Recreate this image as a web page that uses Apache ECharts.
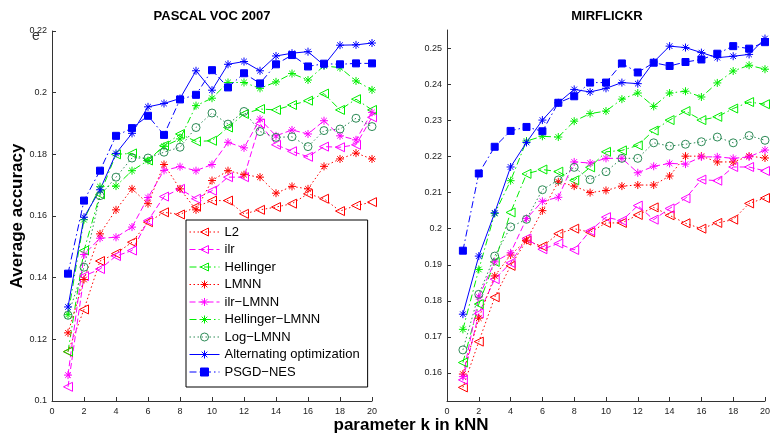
<!DOCTYPE html>
<html><head><meta charset="utf-8">
<script src="https://cdn.jsdelivr.net/npm/echarts@6/dist/echarts.min.js"></script>
<style>html,body{margin:0;padding:0;background:#fff}#c{width:773px;height:437px}</style>
</head><body><div id="c"></div>
<script>
const K = [1,2,3,4,5,6,7,8,9,10,11,12,13,14,15,16,17,18,19,20];
const seriesNames = ['L2','ilr','Hellinger','LMNN','ilr\u2212LMNN','Hellinger\u2212LMNN','Log\u2212LMNN','Alternating optimization','PSGD\u2212NES'];
const xTicks = [0,2,4,6,8,10,12,14,16,18,20];
const yTicksLeft = [0.1,0.12,0.14,0.16,0.18,0.2,0.22];
const yTickLabelsLeft = ['0.1','0.12','0.14','0.16','0.18','0.2','0.22'];
const yTicksRight = [0.16,0.17,0.18,0.19,0.2,0.21,0.22,0.23,0.24,0.25];
const yTickLabelsRight = ['0.16','0.17','0.18','0.19','0.2','0.21','0.22','0.23','0.24','0.25'];

// PASCAL VOC 2007
const L2_pascal = [0.116,0.1297,0.1454,0.1478,0.1515,0.158,0.1612,0.1605,0.163,0.165,0.165,0.1607,0.162,0.1629,0.164,0.1672,0.1656,0.1616,0.1634,0.1645];
const ilr_pascal = [0.1046,0.1405,0.1428,0.147,0.1488,0.1585,0.1663,0.1688,0.1656,0.1682,0.1726,0.1726,0.19,0.1831,0.181,0.1792,0.1825,0.1823,0.1831,0.192];
const Hellinger_pascal = [0.116,0.1488,0.167,0.18,0.1803,0.178,0.1828,0.1866,0.1842,0.1844,0.1887,0.1931,0.1947,0.1944,0.196,0.1974,0.1997,0.1944,0.1979,0.1944];
const LMNN_pascal = [0.1221,0.1394,0.1542,0.162,0.1688,0.164,0.1767,0.1688,0.162,0.1715,0.1747,0.1734,0.1726,0.1674,0.1696,0.1688,0.1761,0.1785,0.1804,0.1785];
const ilrLMNN_pascal = [0.1084,0.1475,0.1528,0.1531,0.1564,0.166,0.1748,0.176,0.1747,0.1767,0.1839,0.1821,0.1914,0.186,0.1879,0.1866,0.1909,0.186,0.1847,0.1936];
const HellLMNN_pascal = [0.128,0.1588,0.1695,0.1697,0.1747,0.178,0.1826,0.185,0.1958,0.1982,0.2033,0.2033,0.2014,0.2035,0.2062,0.2041,0.2087,0.2081,0.2038,0.2009];
const LogLMNN_pascal = [0.1278,0.1434,0.1666,0.1726,0.1788,0.1788,0.1807,0.1823,0.1887,0.1934,0.1898,0.1939,0.1874,0.1855,0.1857,0.1825,0.1877,0.1882,0.1917,0.189];
const Alt_pascal = [0.1305,0.1596,0.1685,0.1803,0.1868,0.1954,0.1965,0.1981,0.2071,0.2008,0.2092,0.2101,0.2071,0.2119,0.2128,0.2133,0.2089,0.2154,0.2155,0.2161];
const PSGD_pascal = [0.1413,0.165,0.1747,0.186,0.1885,0.1925,0.1863,0.1978,0.1993,0.2073,0.2017,0.2063,0.203,0.2092,0.2122,0.2085,0.2094,0.2092,0.2095,0.2095];

// MIRFLICKR
const L2_mir = [0.156,0.1687,0.181,0.1897,0.1967,0.1951,0.1986,0.2,0.199,0.2016,0.2016,0.2038,0.2059,0.2037,0.2015,0.2,0.2016,0.2025,0.207,0.2085];
const ilr_mir = [0.1581,0.1765,0.186,0.1905,0.1973,0.1943,0.1959,0.1941,0.1994,0.2032,0.2022,0.2064,0.2025,0.2056,0.2084,0.2136,0.2133,0.2171,0.2171,0.216];
const Hellinger_mir = [0.1629,0.1791,0.1908,0.2045,0.2152,0.2164,0.2158,0.2134,0.217,0.2213,0.2217,0.2231,0.2272,0.2301,0.2326,0.2301,0.231,0.2333,0.2351,0.2345];
const LMNN_mir = [0.1597,0.1752,0.1869,0.1927,0.1968,0.205,0.213,0.2118,0.21,0.2106,0.2118,0.2121,0.2121,0.2146,0.2201,0.2201,0.2185,0.2185,0.2201,0.2196];
const ilrLMNN_mir = [0.159,0.1811,0.1908,0.1933,0.2028,0.2076,0.2087,0.2185,0.2182,0.2195,0.2195,0.2155,0.2173,0.2181,0.2179,0.2199,0.2199,0.2195,0.2199,0.2218];
const HellLMNN_mir = [0.1721,0.1887,0.2042,0.2133,0.2243,0.2256,0.2254,0.2298,0.2319,0.2326,0.2359,0.2376,0.2339,0.2376,0.2381,0.2365,0.2404,0.2437,0.2453,0.2442];
const LogLMNN_mir = [0.1664,0.1818,0.1924,0.2005,0.2026,0.2108,0.2135,0.217,0.2136,0.2158,0.2195,0.2195,0.2238,0.2229,0.2234,0.2241,0.2254,0.2238,0.2258,0.2245];
const Alt_mir = [0.1763,0.1924,0.2044,0.2171,0.2239,0.2301,0.2349,0.2386,0.2379,0.2389,0.2405,0.2402,0.2462,0.2506,0.2502,0.2488,0.2474,0.2478,0.2483,0.2527];
const PSGD_mir = [0.1939,0.2153,0.2227,0.2271,0.2282,0.227,0.2349,0.2367,0.2405,0.2405,0.2458,0.2433,0.246,0.2451,0.2462,0.2469,0.2485,0.2506,0.2499,0.2517];

const TRI = 'path://M0,5L9,0L9,10Z';
const STAR = 'path://M5,0L5,10M0,5L10,5M1.5,1.5L8.5,8.5M1.5,8.5L8.5,1.5';
const DOT = [1.5,2.5], DASH = [6,3], DASHDOT = [7,3,1.5,3];
const CLEAR = 'rgba(255,255,255,0)';
const styles = [
  {c:'#ff0000', t:DOT, s:TRI, z:9, fill:false},
  {c:'#ff00ff', t:DASH, s:TRI, z:9, fill:false},
  {c:'#00ee00', t:DASHDOT, s:TRI, z:9, fill:false},
  {c:'#ff0000', t:DOT, s:STAR, z:8, fill:false},
  {c:'#ff00ff', t:DASH, s:STAR, z:8, fill:false},
  {c:'#00ee00', t:DASHDOT, s:STAR, z:8, fill:false},
  {c:'#2e8b57', t:DOT, s:'circle', z:8, fill:false},
  {c:'#0000ff', t:'solid', s:STAR, z:8, fill:false},
  {c:'#0000ff', t:DASHDOT, s:'rect', z:7, fill:true}
];
const pascal = [L2_pascal, ilr_pascal, Hellinger_pascal, LMNN_pascal, ilrLMNN_pascal, HellLMNN_pascal, LogLMNN_pascal, Alt_pascal, PSGD_pascal];
const mir = [L2_mir, ilr_mir, Hellinger_mir, LMNN_mir, ilrLMNN_mir, HellLMNN_mir, LogLMNN_mir, Alt_mir, PSGD_mir];

function mk(i, vals, gi) {
  const st = styles[i];
  return {
    name: seriesNames[i], type: 'line', xAxisIndex: gi, yAxisIndex: gi,
    data: K.map((k, j) => [k, vals[j]]),
    symbol: st.s, symbolSize: st.z, showSymbol: true,
    lineStyle: {color: st.c, width: 1, type: st.t},
    itemStyle: {color: st.fill ? st.c : CLEAR, borderColor: st.c, borderWidth: 1},
    emphasis: {disabled: true}, animation: false
  };
}

const axisCommon = {
  axisLine: {show: true, lineStyle: {color: '#333', width: 1}},
  axisTick: {show: true, inside: true, length: 4, lineStyle: {color: '#333'}},
  splitLine: {show: false},
  axisLabel: {color: '#222', fontSize: 9, fontFamily: 'Liberation Sans'}
};
function xAx(gi) {
  return Object.assign({}, axisCommon, {type: 'value', gridIndex: gi, min: 0, max: 20, interval: 2,
    axisLabel: Object.assign({}, axisCommon.axisLabel, {margin: 6})});
}
function yAx(gi, min, max, ticks, labels, extra) {
  return Object.assign({}, axisCommon, {type: 'value', gridIndex: gi, min: min, max: max,
    axisTick: Object.assign({}, axisCommon.axisTick, {customValues: ticks}),
    axisLabel: Object.assign({}, axisCommon.axisLabel, {customValues: ticks, margin: 5,
      formatter: v => { let b = 0, d = 1e9; ticks.forEach((t, i) => { if (Math.abs(t - v) < d) { d = Math.abs(t - v); b = i; } }); return labels[b]; }})
  }, extra || {});
}

const series = [];
for (let i = 0; i < 9; i++) series.push(mk(i, pascal[i], 0));
for (let i = 0; i < 9; i++) series.push(mk(i, mir[i], 1));

const legendData = seriesNames.map((n, i) => {
  const st = styles[i];
  return {name: n,
    itemStyle: {color: st.fill ? st.c : CLEAR, borderColor: st.c, borderWidth: 1},
    lineStyle: {color: st.c, width: 1, type: st.t}};
});

const chart = echarts.init(document.getElementById('c'), null, {renderer: 'canvas'});
chart.setOption({
  animation: false,
  backgroundColor: '#fff',
  title: [
    {text: 'PASCAL VOC 2007', left: 207, top: 5, textAlign: 'center', textStyle: {fontSize: 13, fontWeight: 'bold', color: '#000', fontFamily: 'Liberation Sans'}},
    {text: 'MIRFLICKR', left: 602, top: 5, textAlign: 'center', textStyle: {fontSize: 13, fontWeight: 'bold', color: '#000', fontFamily: 'Liberation Sans'}}
  ],
  grid: [
    {left: 52, top: 31, width: 320, height: 370},
    {left: 447, top: 30, width: 320, height: 371}
  ],
  xAxis: [xAx(0), xAx(1)],
  yAxis: [
    yAx(0, 0.1, 0.22, yTicksLeft, yTickLabelsLeft, {name: 'Average accuracy', nameLocation: 'middle', nameGap: 21, nameRotate: 90,
      nameTextStyle: {fontSize: 17, fontWeight: 'bold', color: '#000', fontFamily: 'Liberation Sans'}}),
    yAx(1, 0.15224, 0.25507, yTicksRight, yTickLabelsRight)
  ],
  legend: {
    orient: 'vertical', left: 186, top: 220, data: legendData,
    backgroundColor: '#fff', borderColor: '#000', borderWidth: 1,
    padding: [5, 8, 8, 3], itemWidth: 30, itemHeight: 10, itemGap: 3.5,
    textStyle: {fontSize: 13, color: '#000', fontFamily: 'Liberation Sans', lineHeight: 14},
    selectedMode: false
  },
  graphic: [
    {type: 'text', x: 36, y: 36, style: {text: 'e', x: 0, y: 0, align: 'center', verticalAlign: 'middle', font: '14px "Liberation Sans"', fill: '#333'}},
    {type: 'text', x: 411, y: 425, style: {text: 'parameter k in kNN', x: 0, y: 0, align: 'center', verticalAlign: 'middle', font: 'bold 17px "Liberation Sans"', fill: '#000'}}
  ],
  series: series
});
</script></body></html>
